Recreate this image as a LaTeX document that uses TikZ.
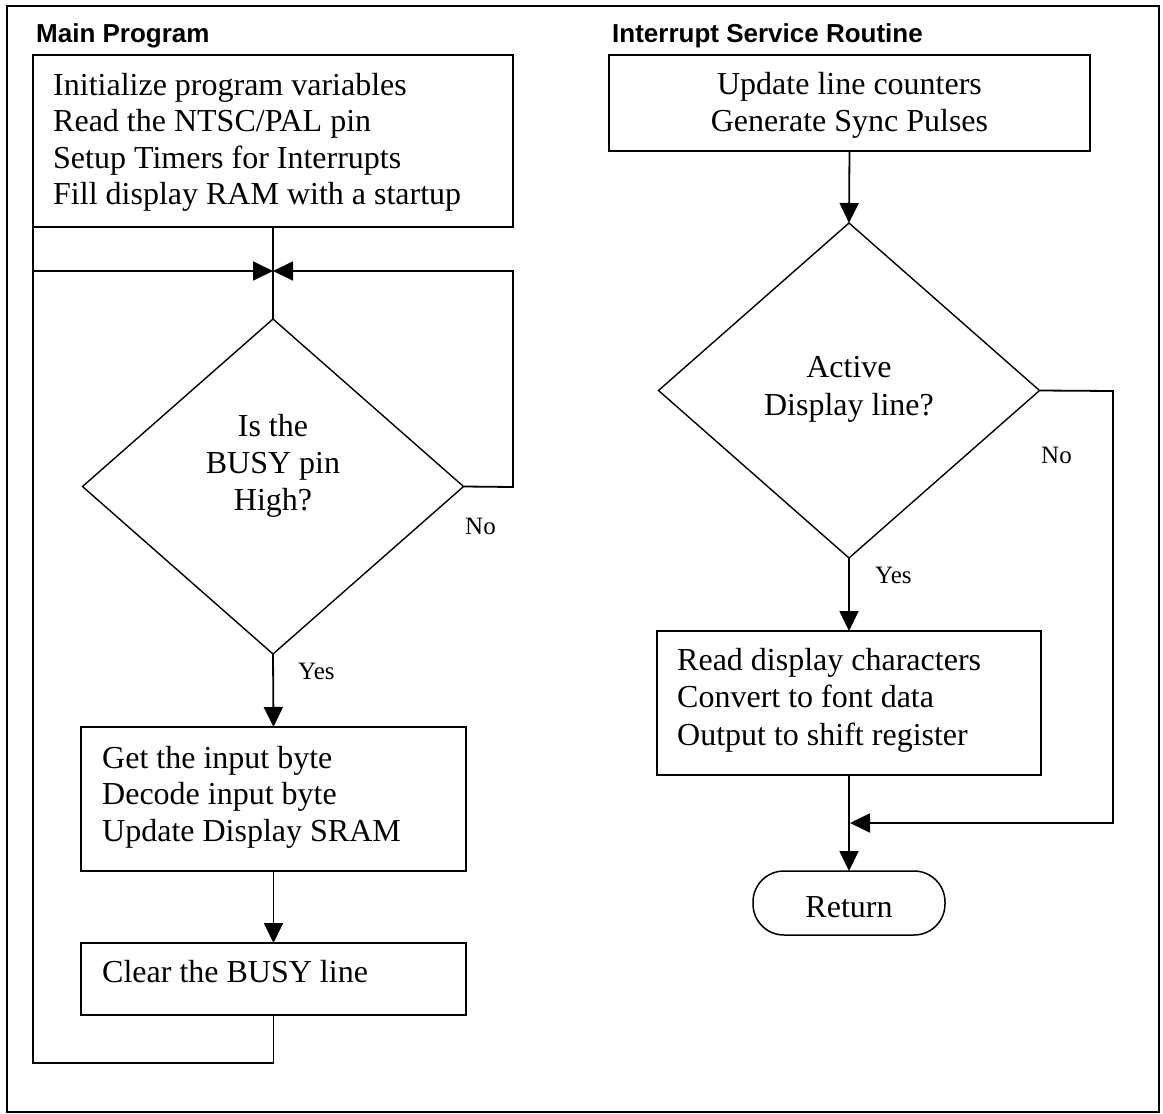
\documentclass[tikz,border=0pt]{standalone}
\usepackage{fontspec}
\setmainfont{Liberation Serif}
\newfontfamily\hvfont{Liberation Sans}
\usetikzlibrary{arrows.meta,shapes.geometric}
\begin{document}
\begin{tikzpicture}[x=1pt,y=-1pt,
  box/.style={draw,line width=1.8pt,rectangle,inner sep=0pt,outer sep=0pt},
  dec/.style={draw,line width=1.4pt,diamond,inner sep=0pt,outer sep=0pt,minimum width=381pt,minimum height=335pt},
  term/.style={draw,line width=1.5pt,rounded corners=31pt,inner sep=0pt,outer sep=0pt,minimum width=192pt,minimum height=64pt},
  txt/.style={inner sep=0pt,font=\fontsize{32}{36.5}\selectfont,align=left},
  ctxt/.style={inner sep=0pt,font=\fontsize{32}{37}\selectfont,align=center},
  lbl/.style={inner sep=0pt,font=\fontsize{25}{30}\selectfont},
  ttl/.style={inner sep=0pt,font=\hvfont\bfseries\fontsize{26}{30}\selectfont},
  conn/.style={line width=1.8pt},
  arr/.style={conn,-{Triangle[length=20pt,width=19pt]}}]
\useasboundingbox (0,0) rectangle (1163,1114);
\draw[line width=2pt] (7,6) rectangle (1159,1112);

% titles
\node[ttl,anchor=base west] (tmain) at (36,42) {Main Program};
\node[ttl,anchor=base west] (tisr) at (612,42) {Interrupt Service Routine};

% ---- Main program ----
\node[box,minimum width=480pt,minimum height=172pt] (b1) at (273,141) {};
\node[txt,anchor=base west] (t1) at (53,204.5) {Initialize program variables\\Read the NTSC/PAL pin\\Setup Timers for Interrupts\\Fill display RAM with a startup};

\node[dec] (d1) at (273,486.5) {};
\node[ctxt,anchor=base] (td1) at (273,510) {Is the\\BUSY pin\\High?};

\node[box,minimum width=385pt,minimum height=144pt] (b4) at (273.5,799) {};
\node[txt,anchor=base west] (t4) at (102,841) {Get the input byte\\Decode input byte\\Update Display SRAM};

\node[box,minimum width=385pt,minimum height=72pt] (b5) at (273.5,979) {};
\node[txt,anchor=base west] (t5) at (102,982) {Clear the BUSY line};

\coordinate (j1) at (273,271);
\coordinate (lt) at (33,271);
\coordinate (lb) at (33,1063);
\coordinate (rb) at (513,487);
\coordinate (rt) at (513,271);

\draw[conn] (b1.south) -- (d1.north);
\draw[conn] (b1.south west) -- (lt);
\draw[arr] (b5.south) |- (lb) -- (lt) -- (j1);
\draw[arr] (d1.east) -- (rb) -- (rt) -- (j1);
\draw[arr] (d1.south) -- (b4.north);
\draw[arr] (b4.south) -- (b5.north);

\node[lbl,anchor=base west] (no1) at (465,534) {No};
\node[lbl,anchor=base west] (yes1) at (298,679) {Yes};

% ---- ISR ----
\node[box,minimum width=481pt,minimum height=96pt] (b2) at (849.5,103) {};
\node[ctxt,anchor=base] (t2) at (849.5,131) {Update line counters\\Generate Sync Pulses};

\node[dec] (d2) at (849,390.5) {};
\node[ctxt,font=\fontsize{32}{38}\selectfont,anchor=base] (td2) at (849,415) {Active\\Display line?};

\node[box,minimum width=384pt,minimum height=144pt] (b3) at (849,703) {};
\node[txt,font=\fontsize{32}{37.5}\selectfont,anchor=base west] (t3) at (677,745) {Read display characters\\Convert to font data\\Output to shift register};

\node[term] (ret) at (849,903) {};
\node[ctxt,anchor=base] (tret) at (849,917) {Return};

\coordinate (nr) at (1113,391);
\coordinate (nb) at (1113,823);
\coordinate (j2) at (850,823);

\draw[arr] (b2.south) -- (d2.north);
\draw[arr] (d2.south) -- (b3.north);
\draw[arr] (b3.south) -- (ret.north);
\draw[arr] (d2.east) -- (nr) -- (nb) -- (j2);

\node[lbl,anchor=base west] (no2) at (1041,463) {No};
\node[lbl,anchor=base west] (yes2) at (875,583) {Yes};
\end{tikzpicture}
\end{document}
